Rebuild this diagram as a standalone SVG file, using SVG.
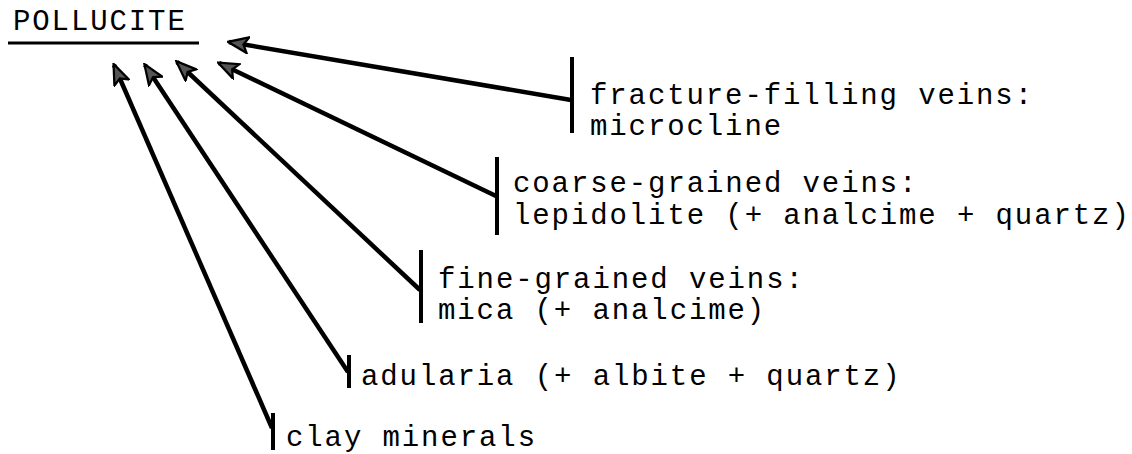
<svg xmlns="http://www.w3.org/2000/svg" width="1132" height="454" viewBox="0 0 1132 454">
<style>
text{font-family:"Liberation Mono","Courier New",monospace;font-size:29px;letter-spacing:1.9px;fill:#000}
.bar{stroke:#000;stroke-width:4;fill:none}
.conn{stroke:#000;stroke-width:4.5;fill:none;marker-end:url(#ah)}
</style>
<defs>
<marker id="ah" viewBox="0 0 20 16" refX="18" refY="8" markerWidth="5" markerHeight="4" markerUnits="strokeWidth" orient="auto">
<path d="M1,1 L19,8 L1,15 L5,8 Z" fill="#555" stroke="#000" stroke-width="2" stroke-linejoin="miter"/>
</marker>
</defs>
<g id="pollucite">
<text x="13" y="30">POLLUCITE</text>
<line x1="8" y1="43" x2="199" y2="43" stroke="#000" stroke-width="3"/>
</g>
<g id="fracture">
<line class="bar" x1="572" y1="57" x2="572" y2="133"/>
<text x="590" y="104">fracture-filling veins:</text>
<text x="590" y="135">microcline</text>
</g>
<g id="coarse">
<line class="bar" x1="497" y1="157" x2="497" y2="235"/>
<text x="513" y="192">coarse-grained veins:</text>
<text x="513" y="224">lepidolite (+ analcime + quartz)</text>
</g>
<g id="fine">
<line class="bar" x1="421" y1="250" x2="421" y2="323"/>
<text x="438" y="288">fine-grained veins:</text>
<text x="438" y="319">mica (+ analcime)</text>
</g>
<g id="adularia">
<line class="bar" x1="349" y1="355" x2="349" y2="388"/>
<text x="361" y="385">adularia (+ albite + quartz)</text>
</g>
<g id="clay">
<line class="bar" x1="273" y1="413" x2="273" y2="450"/>
<text x="286" y="446">clay minerals</text>
</g>
<g id="connectors">
<line class="conn" x1="571" y1="100" x2="229" y2="42"/>
<line class="conn" x1="496" y1="196" x2="219" y2="63"/>
<line class="conn" x1="420" y1="290" x2="177" y2="62"/>
<line class="conn" x1="348" y1="372" x2="145" y2="65"/>
<line class="conn" x1="272" y1="428" x2="114" y2="65"/>
</g>
</svg>
